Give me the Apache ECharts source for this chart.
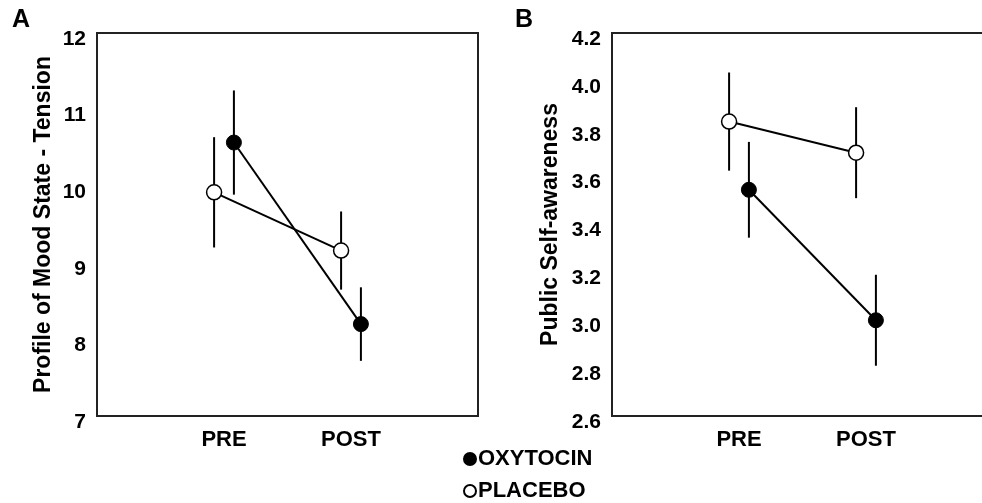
<!DOCTYPE html>
<html>
<head>
<meta charset="utf-8">
<script src="https://cdn.jsdelivr.net/npm/echarts@6/dist/echarts.min.js"></script>
<style>
  html, body { margin: 0; padding: 0; background: #fff; }
  #chart { width: 982px; height: 503px; }
</style>
</head>
<body>
<div id="chart"></div>
<script>
// Data
const phases = ['PRE', 'POST'];
const groups = ['OXYTOCIN', 'PLACEBO'];

// Panel A: Profile of Mood State - Tension
const tensionOxytocin = [10.57, 8.20];
const tensionOxytocinErr = [0.68, 0.48];
const tensionPlacebo = [9.92, 9.16];
const tensionPlaceboErr = [0.72, 0.51];

// Panel B: Public Self-awareness
const awareOxytocin = [3.545, 3.00];
const awareOxytocinErr = [0.20, 0.19];
const awarePlacebo = [3.83, 3.70];
const awarePlaceboErr = [0.205, 0.19];

const FONT = '"Liberation Sans", Arial, sans-serif';
const DODGE = 0.078;

// x position of each phase, with groups dodged a little
function points(means, side) {
    return means.map((m, i) => [i + 1 + side * DODGE, m]);
}
function errPoints(means, errs, side) {
    return means.map((m, i) => [i + 1 + side * DODGE, m, errs[i]]);
}

function errorSeries(name, idx, data) {
    return {
        name: name,
        type: 'custom',
        xAxisIndex: idx,
        yAxisIndex: idx,
        z: 1,
        silent: true,
        data: data,
        encode: { x: 0, y: 1 },
        renderItem: (params, api) => {
            const x = api.value(0);
            const m = api.value(1);
            const e = api.value(2);
            const top = api.coord([x, m + e]);
            const bot = api.coord([x, m - e]);
            return {
                type: 'line',
                shape: { x1: top[0], y1: top[1], x2: bot[0], y2: bot[1] },
                style: { stroke: '#000', lineWidth: 2 }
            };
        }
    };
}

function lineSeries(name, idx, data, filled) {
    return {
        name: name,
        type: 'line',
        xAxisIndex: idx,
        yAxisIndex: idx,
        z: 3,
        data: data,
        symbol: 'circle',
        symbolSize: 15,
        showSymbol: true,
        lineStyle: { color: '#000', width: 2 },
        itemStyle: filled
            ? { color: '#000', borderColor: '#000', borderWidth: 1 }
            : { color: '#fff', borderColor: '#000', borderWidth: 1.5 },
        emphasis: { disabled: true }
    };
}

// tick labels sit a few pixels below their ticks in the original
const yLabel = {
    color: '#000',
    fontSize: 21,
    fontWeight: 'bold',
    fontFamily: FONT,
    margin: 11,
    verticalAlign: 'top',
    lineHeight: 12
};

const xAxisCommon = {
    type: 'value',
    min: 0,
    max: 3,
    interval: 1,
    axisLine: { show: false },
    axisTick: { show: false },
    splitLine: { show: false },
    axisLabel: {
        color: '#000',
        fontSize: 22,
        fontWeight: 'bold',
        fontFamily: FONT,
        margin: 13,
        formatter: v => phases[v - 1] || ''
    }
};

const gridCommon = {
    top: 33,
    height: 383,
    show: true,
    borderColor: '#222',
    borderWidth: 2,
    backgroundColor: 'transparent',
    containLabel: false,
    outerBoundsMode: 'none'
};

const legendCommon = {
    orient: 'vertical',
    left: 458,
    icon: 'circle',
    itemWidth: 12,
    itemHeight: 12,
    selectedMode: false,
    textStyle: { color: '#000', fontSize: 22, fontWeight: 'bold', fontFamily: FONT, padding: [0, 0, 0, -3] }
};

const chart = echarts.init(document.getElementById('chart'));

chart.setOption({
    animation: false,
    backgroundColor: '#fff',
    grid: [
        Object.assign({ left: 97, width: 381 }, gridCommon),
        Object.assign({ left: 612, width: 381 }, gridCommon)
    ],
    xAxis: [
        Object.assign({ gridIndex: 0 }, xAxisCommon),
        Object.assign({ gridIndex: 1 }, xAxisCommon)
    ],
    yAxis: [
        {
            gridIndex: 0,
            type: 'value',
            min: 7,
            max: 12,
            interval: 1,
            name: 'Profile of Mood State - Tension',
            nameLocation: 'middle',
            nameGap: 42,
            nameTextStyle: { color: '#000', fontSize: 23, fontWeight: 'bold', fontFamily: FONT },
            axisLine: { show: false },
            axisTick: { show: false },
            splitLine: { show: false },
            axisLabel: yLabel
        },
        {
            gridIndex: 1,
            type: 'value',
            min: 2.6,
            max: 4.2,
            interval: 0.2,
            name: 'Public Self-awareness',
            nameLocation: 'middle',
            nameGap: 50,
            nameTextStyle: { color: '#000', fontSize: 23, fontWeight: 'bold', fontFamily: FONT },
            axisLine: { show: false },
            axisTick: { show: false },
            splitLine: { show: false },
            axisLabel: Object.assign({}, yLabel, { formatter: v => v.toFixed(1) })
        }
    ],
    legend: [
        Object.assign({ top: 443, data: [groups[0]] }, legendCommon),
        Object.assign({ top: 475, data: [groups[1]] }, legendCommon)
    ],
    graphic: [
        { type: 'text', left: 12, top: 8, style: { text: 'A', fill: '#000', font: 'bold 25px ' + FONT } },
        { type: 'text', left: 515, top: 8, style: { text: 'B', fill: '#000', font: 'bold 25px ' + FONT } }
    ],
    series: [
        errorSeries('tension placebo err', 0, errPoints(tensionPlacebo, tensionPlaceboErr, -1)),
        errorSeries('tension oxytocin err', 0, errPoints(tensionOxytocin, tensionOxytocinErr, 1)),
        lineSeries(groups[1], 0, points(tensionPlacebo, -1), false),
        lineSeries(groups[0], 0, points(tensionOxytocin, 1), true),

        errorSeries('aware placebo err', 1, errPoints(awarePlacebo, awarePlaceboErr, -1)),
        errorSeries('aware oxytocin err', 1, errPoints(awareOxytocin, awareOxytocinErr, 1)),
        lineSeries(groups[1], 1, points(awarePlacebo, -1), false),
        lineSeries(groups[0], 1, points(awareOxytocin, 1), true)
    ]
});
</script>
</body>
</html>
